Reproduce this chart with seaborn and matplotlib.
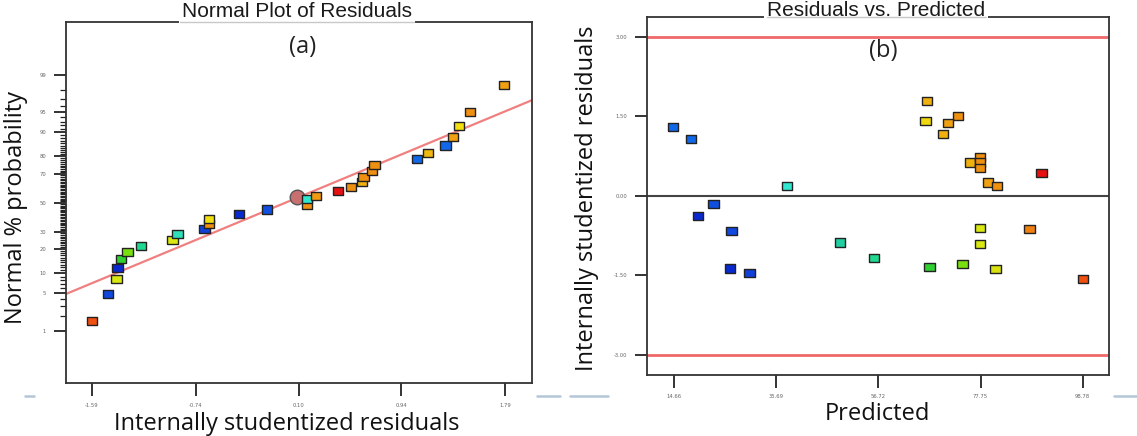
import matplotlib
matplotlib.use("Agg")
import matplotlib.pyplot as plt
import seaborn as sns
import pandas as pd
from statistics import NormalDist
from matplotlib.lines import Line2D

# ---------------- data: panel (a) normal plot ----------------
resid_a = [-1.59, -1.46, -1.39, -1.38, -1.35, -1.30, -1.19, -0.93, -0.89, -0.67,
           -0.63, -0.63, -0.39, -0.16, 0.17, 0.17, 0.24, 0.42, 0.53, 0.62,
           0.63, 0.70, 0.72, 1.07, 1.16, 1.30, 1.36, 1.41, 1.50, 1.78]
prob_a = [1.6, 4.9, 8.2, 11.7, 15.2, 18.4, 21.5, 25.1, 28.4, 31.6,
          34.8, 38.2, 41.7, 45.2, 48.4, 52.8, 54.8, 58.3, 61.4, 64.8,
          68.1, 71.9, 75.2, 78.5, 81.6, 85.1, 88.5, 91.8, 95.1, 98.4]
colors_a = ['#f05010', '#1048e0', '#d8e810', '#0828d0', '#30d030', '#78e010', '#20d890', '#d8e810', '#30e0b8', '#1040d8',
            '#f09010', '#f0e010', '#0828d0', '#1050e0', '#f09010', '#30e8d0', '#f09a10', '#e81010', '#f09010', '#f0b010',
            '#f09010', '#f09010', '#f09010', '#1068e8', '#f0b810', '#1068e8', '#f0a010', '#f0e010', '#f09010', '#f0a010']
circle_resid = [0.09]
circle_prob = [54.0]
line_resid = [-1.81, 2.01]
line_prob = [4.8, 96.9]
prob_ticks = [1, 5, 10, 20, 30, 50, 70, 80, 90, 95, 99]
resid_ticks = [-1.59, -0.74, 0.10, 0.94, 1.79]

# ---------------- data: panel (b) residuals vs predicted ----------------
pred_b = [14.35, 18.14, 37.89, 22.73, 19.50, 26.43, 48.80, 26.08, 30.13, 66.76,
          66.41, 73.08, 71.02, 69.99, 75.55, 77.66, 77.66, 77.66, 79.25, 81.16,
          90.28, 77.60, 87.80, 77.60, 55.85, 67.23, 74.02, 80.81, 98.78]
resid_b = [1.30, 1.07, 0.19, -0.16, -0.38, -0.66, -0.88, -1.37, -1.45, 1.79,
           1.41, 1.51, 1.37, 1.16, 0.63, 0.74, 0.63, 0.52, 0.25, 0.18,
           0.43, -0.61, -0.63, -0.91, -1.17, -1.34, -1.28, -1.38, -1.57]
colors_b = ['#1068e8', '#1068e8', '#30e8d0', '#1050e0', '#0828d0', '#1048e0', '#20d0a0', '#0828d0', '#1040d8', '#f0b010',
            '#f0d810', '#f09010', '#f0a010', '#f0b010', '#f0b010', '#f09010', '#f09010', '#f09010', '#f0a010', '#f09010',
            '#e81010', '#d8e810', '#f08010', '#d8e810', '#20d890', '#30d030', '#78e010', '#d8e010', '#f05010']
limit_values = [3.0, -3.0]
pred_ticks = [14.66, 35.69, 56.72, 77.75, 98.78]
stud_ticks = [-3.0, -1.5, 0.0, 1.5, 3.0]

sns.set_theme(style="white")
plt.rcParams['font.family'] = ['DejaVu Sans']

W, H = 1137, 436
fig = plt.figure(figsize=(W / 100, H / 100), dpi=100)


def fx(px):
    return px / W


def fy(py):
    return 1 - py / H


nd = NormalDist()
z = lambda p: nd.inv_cdf(p / 100.0)

rect_marker = [(-1.25, -1), (1.25, -1), (1.25, 1), (-1.25, 1), (-1.25, -1)]
frame_col = '#333333'
tick_font = dict(family='DejaVu Sans', size=3.8, color='#666666')
label_family = ['Open Sans', 'DejaVu Sans']

# ---------------- panel (a) ----------------
axa = fig.add_axes([fx(65.5), fy(383.3), fx(532) - fx(65.5), fy(21.7) - fy(383.3)])
df_a = pd.DataFrame({'resid': resid_a, 'z': [z(p) for p in prob_a], 'col': colors_a})
axa.plot(line_resid, [z(p) for p in line_prob], color='#f08080', lw=1.6, zorder=1)
axa.scatter(circle_resid, [z(p) for p in circle_prob], marker='o', s=110, color='#c87070',
            edgecolor='#555555', linewidth=1.0, zorder=2)
sns.scatterplot(data=df_a, x='resid', y='z', hue='col', palette={c: c for c in colors_a},
                marker=rect_marker, s=55, edgecolor='#222222', linewidth=1.0, legend=False, ax=axa, zorder=3)
axa.set_xlim(-1.806, 2.008)
axa.set_ylim(-3.28, 3.29)
axa.set_xticks(resid_ticks)
axa.set_xticklabels([f'{v:.2f}' for v in resid_ticks], fontdict=tick_font)
axa.set_yticks([z(p) for p in prob_ticks])
axa.set_yticklabels([str(p) for p in prob_ticks], fontdict=tick_font)
axa.set_yticks([z(p) for p in range(1, 100) if p not in prob_ticks], minor=True)
axa.tick_params(axis='both', which='major', direction='out', length=9, width=1.4, color=frame_col, pad=5,
                bottom=True, left=True)
axa.tick_params(axis='y', which='minor', direction='out', length=4, width=0.9, color='#222222', left=True)
axa.set_xlabel('')
axa.set_ylabel('')

# ---------------- panel (b) ----------------
axb = fig.add_axes([fx(646.5), fy(375), fx(1109) - fx(646.5), fy(16.7) - fy(375)])
df_b = pd.DataFrame({'pred': pred_b, 'resid': resid_b, 'col': colors_b})
for v in limit_values:
    axb.axhline(v, color='#f06868', lw=2.0, zorder=1)
axb.axhline(0, color='#444444', lw=1.5, zorder=1)
sns.scatterplot(data=df_b, x='pred', y='resid', hue='col', palette={c: c for c in colors_b},
                marker=rect_marker, s=55, edgecolor='#222222', linewidth=1.0, legend=False, ax=axb, zorder=3)
axb.set_xlim(8.94, 104.2)
axb.set_ylim(-3.38, 3.38)
axb.set_xticks(pred_ticks)
axb.set_xticklabels([f'{v:.2f}' for v in pred_ticks], fontdict=tick_font)
axb.set_yticks(stud_ticks)
axb.set_yticklabels([f'{v:.2f}' for v in stud_ticks], fontdict=tick_font)
axb.tick_params(axis='both', which='major', direction='out', length=9, width=1.4, color=frame_col, pad=5,
                bottom=True, left=True)
axb.set_xlabel('')
axb.set_ylabel('')

for ax in (axa, axb):
    for sp in ax.spines.values():
        sp.set_visible(True)
        sp.set_color(frame_col)
        sp.set_linewidth(1.3)

# ---------------- titles & labels ----------------
title_kw = dict(family=['Liberation Sans', 'DejaVu Sans'], size=15.0, color='#1a1a1a', ha='center', va='baseline',
                bbox=dict(facecolor='white', edgecolor='none', pad=2.0))
fig.text(fx(297), fy(17), 'Normal Plot of Residuals', **title_kw)
fig.text(fx(876), fy(15.5), 'Residuals vs. Predicted', **title_kw)
fig.add_artist(Line2D([fx(180), fx(414)], [fy(21.7), fy(21.7)], color='#c8c8c8', lw=1.0, zorder=5))
fig.add_artist(Line2D([fx(767), fx(986)], [fy(16.7), fy(16.7)], color='#c8c8c8', lw=1.0, zorder=5))

fig.text(fx(303), fy(47), '(a)', family=label_family, size=17, color='#222222', ha='center', va='center')
fig.text(fx(883), fy(51), '(b)', family=label_family, size=17, color='#222222', ha='center', va='center')

lab_kw = dict(family=label_family, size=17, color='#111111', ha='center', va='center')
fig.text(fx(16), fy(207), 'Normal % probability', rotation=90, **lab_kw)
fig.text(fx(287), fy(424), 'Internally studentized residuals', **lab_kw)
fig.text(fx(587), fy(198), 'Internally studentized residuals', rotation=90, **lab_kw)
fig.text(fx(877), fy(414), 'Predicted', **lab_kw)

# faint slide separator dashes
for x0, x1 in [(25, 34), (537, 560), (570, 608), (1114, 1137)]:
    fig.add_artist(Line2D([fx(x0), fx(x1)], [fy(396), fy(396)], color='#b4c6d8', lw=1.8, zorder=0))

fig.savefig('out.png', dpi=100)
